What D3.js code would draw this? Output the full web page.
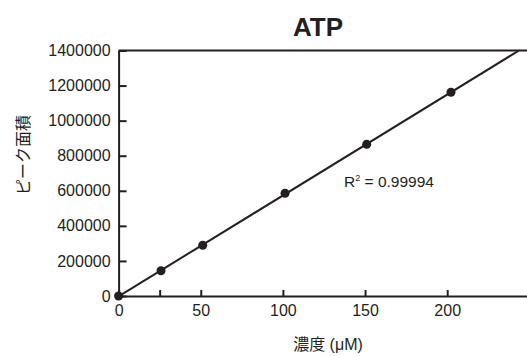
<!DOCTYPE html>
<html>
<head>
<meta charset="utf-8">
<script src="https://cdn.jsdelivr.net/npm/d3@7"></script>
<style>
  body { margin: 0; background: #fff; }
  svg { display: block; }
  text { font-family: "Liberation Sans", Arial, "Noto Sans CJK JP", sans-serif; fill: #231f20; }
  .axis path, .axis line { stroke: #231f20; stroke-width: 2; }
  .axis text { font-size: 16px; }
</style>
</head>
<body>
<svg width="527" height="356"></svg>
<script>
// concentration (uM) and peak area
const concentrations = [0, 25.8, 51.2, 101.3, 151, 202.3];
const peakAreas = [0, 144300, 289100, 585700, 865000, 1161700];
const xTicks = [0, 25, 50, 100, 150, 200];
const xTickLabels = ['0', '', '50', '100', '150', '200'];
const yTicks = [0, 200000, 400000, 600000, 800000, 1000000, 1200000, 1400000];
const rSquared = '0.99994';

const svg = d3.select('svg'),
    margin = { top: 50.5, right: 0, bottom: 60, left: 118.6 },
    height = 296 - margin.top;
const ink = '#231f20';

// scales
const x = d3.scaleLinear().domain([0, 250]).range([margin.left, margin.left + 250 * 1.643]);
const y = d3.scaleLinear().domain([0, 1400000]).range([296, margin.top]);

// y axis, ticks pointing inward
svg.append('g')
    .attr('class', 'axis')
    .attr('transform', 'translate(' + margin.left + ',0)')
    .call(d3.axisLeft(y).tickValues(yTicks).tickFormat(d3.format('d'))
        .tickSizeInner(-8).tickSizeOuter(0).tickPadding(8));

// x axis
svg.append('g')
    .attr('class', 'axis')
    .attr('transform', 'translate(0,296)')
    .call(d3.axisBottom(x).tickValues(xTicks).tickFormat((d, i) => xTickLabels[i])
        .tickSizeInner(-6).tickSizeOuter(0).tickPadding(8.5));

// top frame line
svg.append('line')
    .attr('x1', margin.left).attr('x2', 527)
    .attr('y1', margin.top).attr('y2', margin.top)
    .attr('stroke', ink).attr('stroke-width', 2);

// least squares fit
const mx = d3.mean(concentrations), my = d3.mean(peakAreas);
const slope = d3.sum(concentrations, (c, i) => (c - mx) * (peakAreas[i] - my)) /
    d3.sum(concentrations, c => (c - mx) * (c - mx));
const intercept = my - slope * mx;
const xEnd = (1400000 - intercept) / slope;

svg.append('line')
    .attr('x1', x(0)).attr('y1', y(intercept))
    .attr('x2', x(xEnd)).attr('y2', y(1400000))
    .attr('stroke', ink).attr('stroke-width', 2);

// points
svg.selectAll('.dot')
    .data(concentrations)
    .enter().append('circle')
    .attr('class', 'dot')
    .attr('cx', d => x(d))
    .attr('cy', (d, i) => y(peakAreas[i]))
    .attr('r', 4.5)
    .attr('fill', ink);

// title
svg.append('text')
    .attr('x', 318).attr('y', 36.3)
    .attr('text-anchor', 'middle')
    .style('font-size', '26px').style('font-weight', 'bold')
    .text('ATP');

// r squared
const r2 = svg.append('text')
    .attr('x', 344).attr('y', 187)
    .style('font-size', '15.5px');
r2.append('tspan').text('R');
r2.append('tspan').attr('dy', -6).style('font-size', '9px').text('2');
r2.append('tspan').attr('dy', 6).text(' = ' + rSquared);

// axis titles
svg.append('text')
    .attr('x', 328).attr('y', 350)
    .attr('text-anchor', 'middle')
    .style('font-size', '16px')
    .text('濃度 (μM)');

svg.append('text')
    .attr('transform', 'translate(29,155) rotate(-90)')
    .attr('text-anchor', 'middle')
    .style('font-size', '16px')
    .text('ピーク面積');
</script>
</body>
</html>
